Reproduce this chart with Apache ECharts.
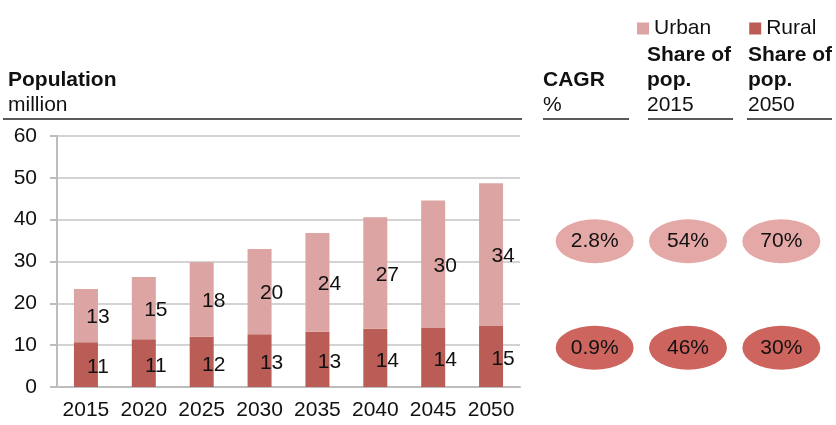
<!DOCTYPE html>
<html>
<head>
<meta charset="utf-8">
<script src="https://cdn.jsdelivr.net/npm/echarts@6/dist/echarts.min.js"></script>
<style>
  html, body { margin: 0; padding: 0; background: #fff; }
  #chart { width: 836px; height: 425px; }
</style>
</head>
<body>
<div id="chart"></div>
<script>
// data
const years = ['2015', '2020', '2025', '2030', '2035', '2040', '2045', '2050'];
const rural = [10.7, 11.4, 12.0, 12.6, 13.2, 13.9, 14.2, 14.6];
const urban = [12.7, 14.9, 17.8, 20.4, 23.6, 26.7, 30.4, 34.1];
const statCols = ['CAGR', 'Share 2015', 'Share 2050'];
const statRows = ['Rural', 'Urban'];
const urbanStats = [2.8, 54, 70];
const ruralStats = [0.9, 46, 30];

const FONT = "'Liberation Sans', Arial, sans-serif";
const FS = 21;
const urbanColor = '#dca4a3';
const ruralColor = '#ba5d57';
const urbanDot = '#e4a8a6';
const ruralDot = '#cd645e';

const chart = echarts.init(document.getElementById('chart'));

function statLabel(p) {
  const v = p.value[2];
  return p.value[0] === 0 ? v.toFixed(1) + '%' : v + '%';
}

const hdr = (text, x, y, bold) => ({
  type: 'text',
  style: {
    text: text, x: x, y: y,
    font: (bold ? 'bold ' : '') + FS + 'px ' + FONT,
    fill: '#111', verticalAlign: 'middle'
  }
});
const rule = (x1, x2) => ({
  type: 'line',
  shape: { x1: x1, y1: 119, x2: x2, y2: 119 },
  style: { stroke: '#5a5a5a', lineWidth: 2 }
});

const option = {
  animation: false,
  textStyle: { fontFamily: FONT },
  legend: {
    data: ['Urban', 'Rural'],
    left: 632, top: 13,
    itemWidth: 12, itemHeight: 12, itemGap: 38,
    icon: 'rect',
    textStyle: { fontSize: FS, color: '#111', fontFamily: FONT }
  },
  grid: [
    { left: 57, right: 316, top: 136, bottom: 38 },
    { left: 548, right: 8, top: 188, bottom: 24 }
  ],
  xAxis: [{
    type: 'category',
    data: years,
    gridIndex: 0,
    axisLine: { lineStyle: { color: '#bdbdbd', width: 2 } },
    axisTick: { length: 6, lineStyle: { color: '#bdbdbd', width: 2 } },
    axisLabel: { interval: 0, fontSize: FS, color: '#111', margin: 13, fontFamily: FONT }
  }, {
    type: 'category',
    data: statCols,
    gridIndex: 1,
    show: false
  }],
  yAxis: [{
    type: 'value',
    min: 0, max: 60, interval: 10,
    gridIndex: 0,
    axisLine: { show: true, lineStyle: { color: '#bdbdbd', width: 2 } },
    axisTick: { show: true, length: 7, lineStyle: { color: '#bdbdbd', width: 2 } },
    axisLabel: { fontSize: FS, color: '#111', margin: 20, fontFamily: FONT },
    splitLine: { lineStyle: { color: '#d3d3d3', width: 2 } }
  }, {
    type: 'category',
    data: statRows,
    gridIndex: 1,
    show: false
  }],
  series: [{
    name: 'Rural',
    type: 'bar',
    stack: 'pop',
    barWidth: 24,
    data: rural,
    itemStyle: { color: ruralColor },
    label: {
      show: true, position: 'inside', offset: [12, 3],
      fontSize: FS, color: '#111', fontFamily: FONT,
      formatter: p => Math.round(p.value)
    }
  }, {
    name: 'Urban',
    type: 'bar',
    stack: 'pop',
    barWidth: 24,
    data: urban,
    itemStyle: { color: urbanColor },
    label: {
      show: true, position: 'inside', offset: [12, 2],
      fontSize: FS, color: '#111', fontFamily: FONT,
      formatter: p => Math.round(p.value)
    }
  }, {
    type: 'scatter',
    xAxisIndex: 1, yAxisIndex: 1,
    symbol: 'circle',
    symbolSize: [78, 44],
    data: urbanStats.map((v, i) => [i, 1, v]),
    itemStyle: { color: urbanDot, opacity: 1 },
    label: { show: true, position: 'inside', fontSize: FS, color: '#111', fontFamily: FONT, formatter: statLabel }
  }, {
    type: 'scatter',
    xAxisIndex: 1, yAxisIndex: 1,
    symbol: 'circle',
    symbolSize: [78, 44],
    data: ruralStats.map((v, i) => [i, 0, v]),
    itemStyle: { color: ruralDot, opacity: 1 },
    label: { show: true, position: 'inside', fontSize: FS, color: '#111', fontFamily: FONT, formatter: statLabel }
  }],
  graphic: [
    hdr('Population', 8, 80, true),
    hdr('million', 8, 105, false),
    rule(3, 522),
    hdr('CAGR', 543, 80, true),
    hdr('%', 543, 105, false),
    rule(543, 629),
    hdr('Share of', 647, 55, true),
    hdr('pop.', 647, 80, true),
    hdr('2015', 647, 105, false),
    rule(648, 733),
    hdr('Share of', 748, 55, true),
    hdr('pop.', 748, 80, true),
    hdr('2050', 748, 105, false),
    rule(747, 832)
  ]
};

chart.setOption(option);
</script>
</body>
</html>
